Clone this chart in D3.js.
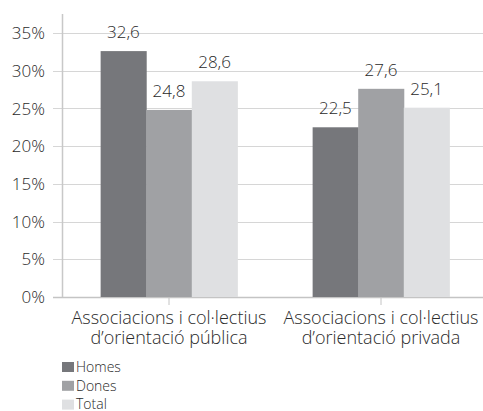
<!DOCTYPE html>
<html><head><meta charset="utf-8">
<script src="https://cdn.jsdelivr.net/npm/d3@7"></script>
<style>body{margin:0;background:#fff}svg{display:block}text{font-family:"Open Sans","Liberation Sans",Arial,sans-serif;font-weight:300;fill:#2a2a2a}</style>
</head><body><svg id="c" width="483" height="411"></svg>
<script>
const categories = [["Associacions i col·lectius","d’orientació pública"],["Associacions i col·lectius","d’orientació privada"]];
const seriesNames = ["Homes","Dones","Total"];
const homes = [32.6, 22.5];
const dones = [24.8, 27.6];
const total = [28.6, 25.1];
const yTicks = [0,5,10,15,20,25,30,35];
const colors = ["#76777b","#a0a1a4","#dfe0e2"];
const series = [homes, dones, total];

(function(){
const svg = d3.select("#c");
const pl = 62, pr = 484, pt = 14, pb = 297;
const y = d3.scaleLinear().domain([0,35]).range([pb, 33]);
const x0 = d3.scaleBand().domain(d3.range(categories.length)).range([63, 487]).paddingInner(0.355).paddingOuter(0.1775);
const x1 = d3.scaleBand().domain(d3.range(series.length)).range([0, x0.bandwidth()]);

svg.append("g").selectAll("line").data(yTicks).join("line")
  .attr("x1", pl-9).attr("x2", pr).attr("y1", d=>Math.round(y(d))+0.5).attr("y2", d=>Math.round(y(d))+0.5)
  .attr("stroke", d=> d===0 ? "#c4c4c4" : "#d6d6d6").attr("stroke-width", d=> d===0?1.5:1.2);
svg.append("line").attr("x1", pl+0.5).attr("x2", pl+0.5).attr("y1", pt).attr("y2", pb).attr("stroke","#c8c8c8").attr("stroke-width",1.5);
svg.append("g").selectAll("text").data(yTicks).join("text")
  .attr("x", 45).attr("y", d=>y(d)+6.2).attr("text-anchor","end").attr("font-size",17).text(d=>d+"%");

const g = svg.append("g");
categories.forEach((c,i)=>{
  series.forEach((s,j)=>{
    const xx = x0(i)+x1(j);
    g.append("rect").attr("x", xx).attr("width", x1.bandwidth()+0.5).attr("y", y(s[i])).attr("height", pb - y(s[i])).attr("fill", colors[j]);
    g.append("text").attr("x", xx + x1.bandwidth()/2).attr("y", y(s[i]) - 13).attr("text-anchor","middle").attr("font-size",17)
      .text(d3.format(".1f")(s[i]).replace(".",","));
  });
  const cx = x0(i)+x0.bandwidth()/2;
  svg.append("line").attr("x1",cx).attr("x2",cx).attr("y1",pb).attr("y2",pb+8).attr("stroke","#c4c4c4");
  const t = svg.append("text").attr("text-anchor","middle").attr("font-size",18);
  c.forEach((line,k)=> t.append("tspan").attr("x",cx).attr("y",324+k*20).text(line));
});

const lg = svg.append("g");
seriesNames.forEach((n,j)=>{
  lg.append("rect").attr("x",62).attr("y",362+j*18.8).attr("width",12).attr("height",10).attr("fill",colors[j]);
  lg.append("text").attr("x",76).attr("y",372+j*18.5).attr("font-size",14).text(n);
});
})();
</script></body></html>
